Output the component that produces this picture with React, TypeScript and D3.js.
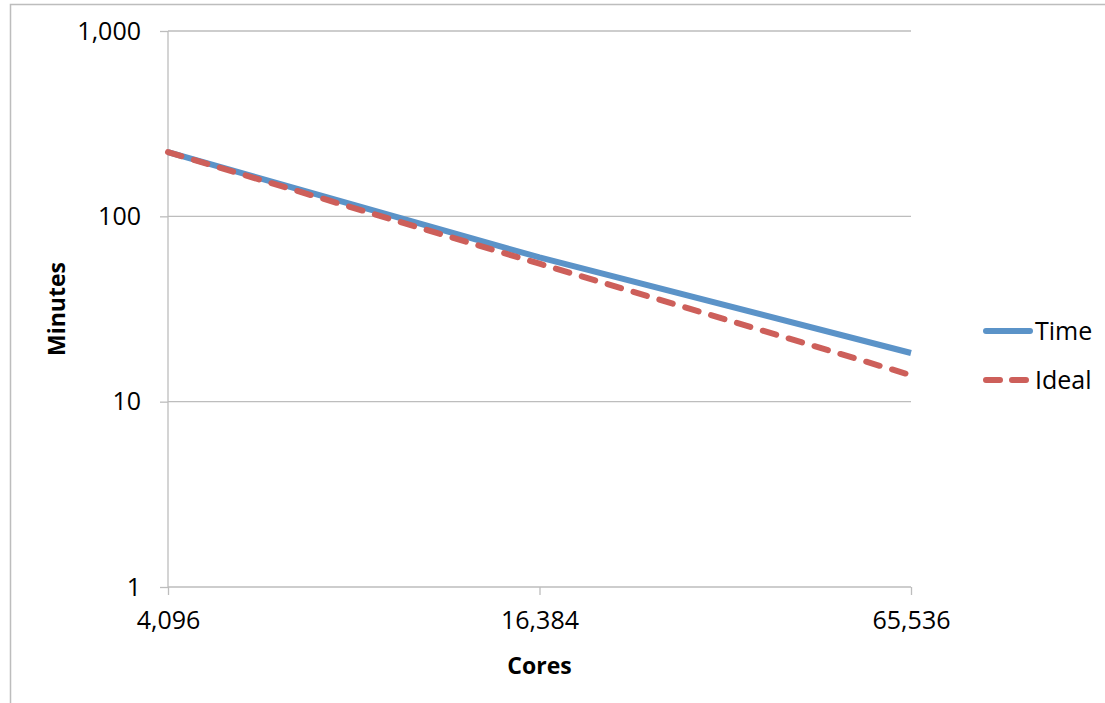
import React, { useRef, useEffect } from 'react';
import * as d3 from 'd3';

// cores on the (category) x axis
const cores = ['4,096', '16,384', '65,536'];
// minutes
const timeValues = [222, 60, 18.3];
const idealValues = [222, 55.5, 13.9];
const yTicks = [1, 10, 100, 1000];

const W = 1105;
const H = 703;
const PLOT = { left: 168, right: 911, top: 31, bottom: 587 };
const FONT = '"Open Sans", sans-serif';
const GRID = '#bdbdbd';

export default function App() {
  const svgRef = useRef<SVGSVGElement>(null);

  useEffect(() => {
    if (!svgRef.current) return;
    const svg = d3.select(svgRef.current);
    svg.selectAll('*').remove();

    const x = d3.scalePoint<string>().domain(cores).range([PLOT.left, PLOT.right]);
    const y = d3.scaleLog().domain([1, 1000]).range([PLOT.bottom, PLOT.top]);

    // outer chart frame (cropped at right/bottom)
    svg.append('path')
      .attr('d', `M${W + 5},4.5 H10.5 V${H + 5}`)
      .attr('fill', 'none')
      .attr('stroke', GRID)
      .attr('stroke-width', 1.5);

    // gridlines
    svg.append('g')
      .selectAll('line')
      .data(yTicks.slice(1))
      .join('line')
      .attr('x1', PLOT.left).attr('x2', PLOT.right)
      .attr('y1', (d) => y(d)).attr('y2', (d) => y(d))
      .attr('stroke', GRID).attr('stroke-width', 1.3);

    // y axis
    svg.append('g')
      .attr('transform', `translate(${PLOT.left},0)`)
      .call(d3.axisLeft(y).tickValues(yTicks).tickSize(8).tickPadding(19).tickFormat(d3.format(',')))
      .call((a) => a.select('.domain').attr('stroke', GRID).attr('stroke-width', 1.3).attr('d', `M0,${PLOT.top}V${PLOT.bottom}`))
      .call((a) => a.selectAll('line').attr('stroke', GRID).attr('stroke-width', 1.3))
      .call((a) => a.selectAll('text').attr('fill', '#000').attr('font-size', 25).attr('font-family', FONT));

    // x axis
    svg.append('g')
      .attr('transform', `translate(0,${PLOT.bottom})`)
      .call(d3.axisBottom(x).tickSize(8).tickPadding(16))
      .call((a) => a.select('.domain').attr('stroke', GRID).attr('stroke-width', 1.3).attr('d', `M${PLOT.left},0H${PLOT.right}`))
      .call((a) => a.selectAll('line').attr('stroke', GRID).attr('stroke-width', 1.3))
      .call((a) => a.selectAll('text').attr('fill', '#000').attr('font-size', 25).attr('font-family', FONT));

    // axis titles
    svg.append('text')
      .attr('x', (PLOT.left + PLOT.right) / 2).attr('y', 674)
      .attr('text-anchor', 'middle')
      .attr('font-family', FONT).attr('font-weight', 'bold').attr('font-size', 23)
      .text('Cores');
    svg.append('text')
      .attr('transform', `translate(65,${(PLOT.top + PLOT.bottom) / 2}) rotate(-90)`)
      .attr('text-anchor', 'middle')
      .attr('font-family', FONT).attr('font-weight', 'bold').attr('font-size', 23)
      .text('Minutes');

    const line = d3.line<number>()
      .x((_, i) => x(cores[i]) as number)
      .y((d) => y(d));

    svg.append('path')
      .datum(timeValues)
      .attr('fill', 'none').attr('stroke', '#5b93c8').attr('stroke-width', 6)
      .attr('d', line);

    svg.append('path')
      .datum(idealValues)
      .attr('fill', 'none').attr('stroke', '#cd5f5a').attr('stroke-width', 6)
      .attr('stroke-dasharray', '14,13').attr('stroke-linecap', 'round')
      .attr('d', line);

    // legend
    const legend = [
      { name: 'Time', color: '#5b93c8', dash: null, y: 331 },
      { name: 'Ideal', color: '#cd5f5a', dash: '14,12', y: 380 },
    ];
    const lg = svg.append('g');
    legend.forEach((l) => {
      lg.append('line')
        .attr('x1', 986).attr('x2', 1030).attr('y1', l.y).attr('y2', l.y)
        .attr('stroke', l.color).attr('stroke-width', 6).attr('stroke-linecap', 'round')
        .attr('stroke-dasharray', l.dash);
      lg.append('text')
        .attr('x', 1035).attr('y', l.y).attr('dy', '0.35em')
        .attr('font-family', FONT).attr('font-size', 25)
        .text(l.name);
    });
  }, []);

  return (
    <svg
      ref={svgRef}
      width={W}
      height={H}
      style={{ position: 'absolute', left: 0, top: 0, background: '#fff' }}
    />
  );
}
